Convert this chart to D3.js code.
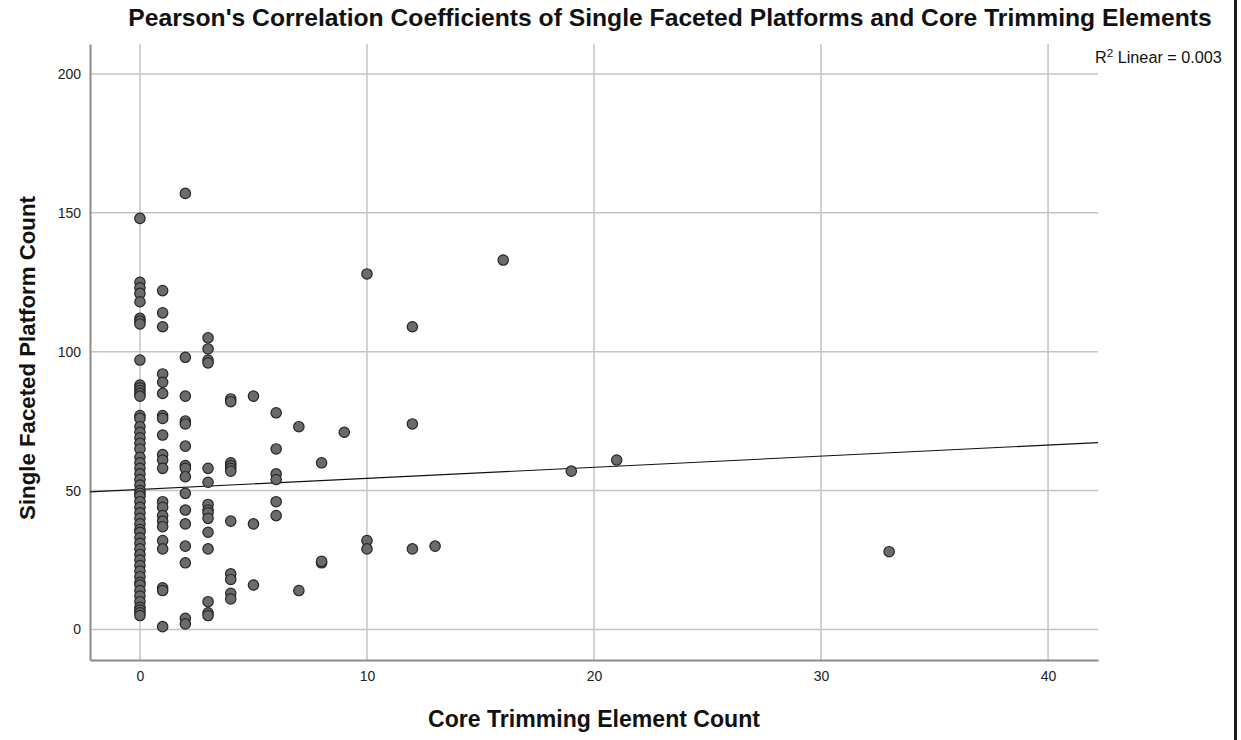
<!DOCTYPE html>
<html>
<head>
<meta charset="utf-8">
<script src="https://cdn.jsdelivr.net/npm/d3@7"></script>
<style>
  html, body { margin: 0; padding: 0; background: #fff; }
  svg { display: block; }
  text { font-family: "Liberation Sans", Arial, sans-serif; }
</style>
</head>
<body>
<svg id="chart" width="1241" height="740"></svg>
<script>
// Core trimming element count (x) per assemblage, grouped by count
const coreTrimX = [
  0,0,0,0,0,0,0,0,0,0,0,0,0,0,0,0,0,0,0,0,0,0,0,0,0,0,0,0,0,0,0,0,0,0,0,0,0,0,0,0,0,0,0,0,0,0,0,0,0,0,0,0,0,0,
  1,1,1,1,1,1,1,1,1,1,1,1,1,1,1,1,1,1,1,1,1,1,
  2,2,2,2,2,2,2,2,2,2,2,2,2,2,2,2,
  3,3,3,3,3,3,3,3,3,3,3,3,3,3,3,
  4,4,4,4,4,4,4,4,4,4,4,
  5,5,5,
  6,6,6,6,6,6,
  7,7, 8,8,8, 9, 10,10,10, 12,12,12, 13, 16, 19, 21, 33
];
// Single faceted platform count (y), same order as coreTrimX
const singleFacetY = [
  148,125,123,121,118,112,111,110,97,88,87,86,85,84,77,76,73,71,69,67,65,62,60,58,56,54,52,50,49,48,46,44,42,40,38,36,35,33,31,29,27,25,23,21,19,17,16,14,12,10,8,7,6,5,
  122,114,109,92,89,85,77,76,70,63,61,58,46,44,41,39,37,32,29,15,14,1,
  157,98,84,75,74,66,59,58,55,49,43,38,30,24,4,2,
  105,101,97,96,58,53,45,43,42,40,35,29,10,6,5,
  83,82,60,59,58,57,39,20,18,13,11,
  84,38,16,
  78,65,56,54,46,41,
  73,14, 60,24,24.5, 71, 128,32,29, 109,74,29, 30, 133, 57, 61, 28
];
// Tick values
const xTicks = [0, 10, 20, 30, 40];
const yTicks = [0, 50, 100, 150, 200];
// Linear fit reported with the plot
const fitIntercept = 50.4;
const fitSlope = 0.40;
const fitR2 = "0.003";

const titleText = "Pearson's Correlation Coefficients of Single Faceted Platforms and Core Trimming Elements";
const xTitle = "Core Trimming Element Count";
const yTitle = "Single Faceted Platform Count";

const svg = d3.select("#chart");
const plotL = 90, plotR = 1098, plotT = 44, plotB = 660;

const x = d3.scaleLinear().domain([-2.2, 42.2]).range([plotL, plotR]);
const y = d3.scaleLinear().domain([-11.0, 210.8]).range([plotB, plotT]);

// scale a label's font so it spans the given width
function fitWidth(sel, width) {
  const fs = +sel.attr("font-size");
  const w = sel.node().getComputedTextLength();
  sel.attr("font-size", fs * width / w);
  return sel;
}

// grid lines
const grid = svg.append("g");
grid.selectAll("line.h").data(yTicks).join("line").attr("class", "h")
  .attr("x1", plotL).attr("x2", plotR)
  .attr("y1", d => y(d)).attr("y2", d => y(d))
  .attr("stroke", "#c4c4c4").attr("stroke-width", 1.5);
grid.selectAll("line.v").data(xTicks).join("line").attr("class", "v")
  .attr("y1", plotT).attr("y2", plotB)
  .attr("x1", d => x(d)).attr("x2", d => x(d))
  .attr("stroke", "#c4c4c4").attr("stroke-width", 1.5);

// axes
const xAxis = d3.axisBottom(x).tickValues(xTicks).tickSize(0).tickPadding(11);
const yAxis = d3.axisLeft(y).tickValues(yTicks).tickSize(0).tickPadding(9);
const gx = svg.append("g").attr("transform", `translate(0,${plotB})`).call(xAxis);
const gy = svg.append("g").attr("transform", `translate(${plotL},0)`).call(yAxis);
[gx, gy].forEach(g => {
  g.select(".domain").attr("stroke", "#8c8c8c").attr("stroke-width", 2);
  g.selectAll("text").attr("font-size", 14).attr("fill", "#222")
    .attr("font-family", "'Liberation Sans', Arial, sans-serif");
});

// fit line
const xd = x.domain();
svg.append("line")
  .attr("x1", x(xd[0])).attr("x2", x(xd[1]))
  .attr("y1", y(fitIntercept + fitSlope * xd[0]))
  .attr("y2", y(fitIntercept + fitSlope * xd[1]))
  .attr("stroke", "#111").attr("stroke-width", 1.1);

// points
const pts = coreTrimX.map((v, i) => ({ x: v, y: singleFacetY[i] }));
svg.append("g").selectAll("circle").data(pts).join("circle")
  .attr("cx", d => x(d.x)).attr("cy", d => y(d.y)).attr("r", 5.2)
  .attr("fill", "#6b6b6b").attr("stroke", "#262626").attr("stroke-width", 1.2);

// R² annotation
const r2 = svg.append("text").attr("x", 1095).attr("y", 63)
  .attr("font-size", 14).attr("fill", "#111");
r2.append("tspan").text("R");
r2.append("tspan").attr("font-size", "0.72em").attr("dy", -6).text("2");
r2.append("tspan").attr("dy", 6).text(" Linear = " + fitR2);
fitWidth(r2, 127);

// titles
fitWidth(svg.append("text").attr("x", 670).attr("y", 26).attr("text-anchor", "middle")
  .attr("font-size", 18).attr("font-weight", "bold").attr("fill", "#111")
  .text(titleText), 1084);
fitWidth(svg.append("text").attr("x", 594).attr("y", 727).attr("text-anchor", "middle")
  .attr("font-size", 18).attr("font-weight", "bold").attr("fill", "#111")
  .text(xTitle), 332);
fitWidth(svg.append("text").attr("transform", "translate(35,358) rotate(-90)")
  .attr("text-anchor", "middle")
  .attr("font-size", 18).attr("font-weight", "bold").attr("fill", "#111")
  .text(yTitle), 324);

// right frame edge
svg.append("line").attr("x1", 1235.5).attr("x2", 1235.5).attr("y1", 0).attr("y2", 740)
  .attr("stroke", "#1a1a1a").attr("stroke-width", 3);
</script>
</body>
</html>
